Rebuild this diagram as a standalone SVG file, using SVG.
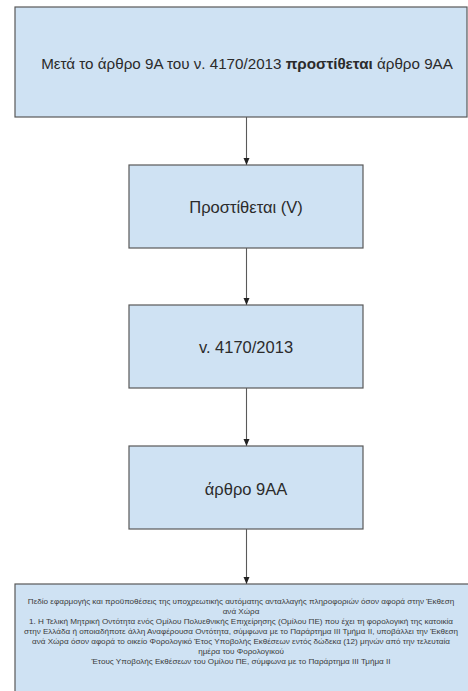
<svg xmlns="http://www.w3.org/2000/svg" width="468" height="691" viewBox="0 0 468 691">
<style>
.box{fill:#cfe2f3;stroke:#595959;stroke-width:1.2}
.t{font-family:"Liberation Sans",Arial,sans-serif;fill:#2b2b2b;text-anchor:middle}
.big{font-size:16.5px}
.top{font-size:15.2px}
.sm{font-size:8.1px;fill:#3a3a3a}
.edge{stroke:#5a5a5a;stroke-width:1.1;fill:none}
</style>
<defs>
<marker id="ah" markerWidth="8" markerHeight="8" refX="7" refY="4" orient="auto" markerUnits="userSpaceOnUse">
<path d="M0,1 L7,4 L0,7 Z" fill="#222"/>
</marker>
</defs>
<rect width="468" height="691" fill="#ffffff"/>
<g id="connectors">
<line class="edge" x1="246.5" y1="117" x2="246.5" y2="165" marker-end="url(#ah)"/>
<line class="edge" x1="246.5" y1="248" x2="246.5" y2="305" marker-end="url(#ah)"/>
<line class="edge" x1="246.5" y1="388" x2="246.5" y2="446" marker-end="url(#ah)"/>
<line class="edge" x1="246.5" y1="529" x2="246.5" y2="584" marker-end="url(#ah)"/>
</g>
<g id="n1">
<rect class="box" x="15" y="7" width="452" height="110"/>
<text class="t top" x="247" y="69">Μετά το άρθρο 9Α του ν. 4170/2013 <tspan font-weight="bold">προστίθεται</tspan> άρθρο 9ΑΑ</text>
</g>
<g id="n2">
<rect class="box" x="129" y="165" width="234" height="83"/>
<text class="t big" x="246" y="213">Προστίθεται (V)</text>
</g>
<g id="n3">
<rect class="box" x="129" y="305" width="234" height="83"/>
<text class="t big" x="246" y="353">v. 4170/2013</text>
</g>
<g id="n4">
<rect class="box" x="129" y="446" width="234" height="83"/>
<text class="t big" x="246" y="495">άρθρο 9ΑΑ</text>
</g>
<g id="n5">
<rect class="box" x="15" y="584" width="460" height="115"/>
<text class="t sm" x="241" y="604">Πεδίο εφαρμογής και προϋποθέσεις της υποχρεωτικής αυτόματης ανταλλαγής πληροφοριών όσον αφορά στην Έκθεση</text>
<text class="t sm" x="241" y="614">ανά Χώρα</text>
<text class="t sm" x="241" y="624">1. Η Τελική Μητρική Οντότητα ενός Ομίλου Πολυεθνικής Επιχείρησης (Ομίλου ΠΕ) που έχει τη φορολογική της κατοικία</text>
<text class="t sm" x="241" y="634">στην Ελλάδα ή οποιαδήποτε άλλη Αναφέρουσα Οντότητα, σύμφωνα με το Παράρτημα ΙΙΙ Τμήμα ΙΙ, υποβάλλει την Έκθεση</text>
<text class="t sm" x="241" y="644">ανά Χώρα όσον αφορά το οικείο Φορολογικό Έτος Υποβολής Εκθέσεων εντός δώδεκα (12) μηνών από την τελευταία</text>
<text class="t sm" x="241" y="654">ημέρα του Φορολογικού</text>
<text class="t sm" x="241" y="664">Έτους Υποβολής Εκθέσεων του Ομίλου ΠΕ, σύμφωνα με το Παράρτημα ΙΙΙ Τμήμα ΙΙ</text>
</g>
</svg>
